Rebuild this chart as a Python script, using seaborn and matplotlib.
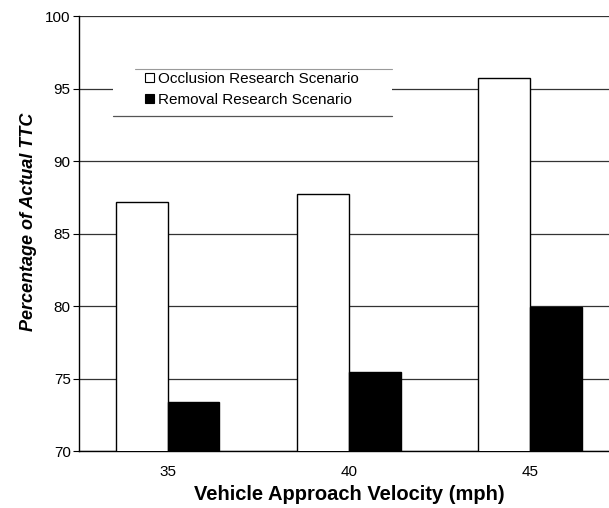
import matplotlib
matplotlib.use("Agg")
import matplotlib.pyplot as plt
import seaborn as sns
import pandas as pd
from matplotlib.lines import Line2D
from matplotlib.patches import Rectangle

velocities = ["35", "40", "45"]
occlusion = [87.2, 87.7, 95.75]
removal = [73.4, 75.45, 79.9]
series_names = ["Occlusion Research Scenario", "Removal Research Scenario"]
y_ticks = [70, 75, 80, 85, 90, 95, 100]

df = pd.DataFrame({
    "velocity": velocities * 2,
    "value": occlusion + removal,
    "scenario": [series_names[0]] * 3 + [series_names[1]] * 3,
})

sns.set_theme(style="white")
plt.rcParams["font.family"] = ["Liberation Sans", "DejaVu Sans"]
plt.rcParams["text.color"] = "black"
plt.rcParams["axes.labelcolor"] = "black"
plt.rcParams["xtick.color"] = "black"
plt.rcParams["ytick.color"] = "black"

W, H = 609, 508
fig = plt.figure(figsize=(W / 100, H / 100), dpi=100)
ax_l, ax_r, ax_t, ax_b = 79, 609, 16, 451
ax = fig.add_axes([ax_l / W, (H - ax_b) / H, (ax_r - ax_l) / W, (ax_b - ax_t) / H])

sns.barplot(data=df, x="velocity", y="value", hue="scenario", order=velocities,
            hue_order=series_names, palette=["white", "black"], edgecolor="black",
            linewidth=1.0, width=0.57, gap=0, ax=ax, legend=False, zorder=3)

ax.set_ylim(70, 100)
ax.set_xlim(-0.49, 2.436)
ax.set_yticks(y_ticks)
ax.set_yticklabels([str(t) for t in y_ticks], fontsize=11)
ax.tick_params(axis="y", length=4, width=0.8, color="black", labelcolor="black",
               direction="out", left=True, pad=2)
ax.tick_params(axis="x", length=0, labelsize=11, labelcolor="black", pad=10)
ax.yaxis.grid(True, color="#333333", linewidth=0.9)
ax.set_axisbelow(True)
for s in ["top", "right"]:
    ax.spines[s].set_visible(False)
for s in ["left", "bottom"]:
    ax.spines[s].set_color("black")
    ax.spines[s].set_linewidth(1.0)

aw, ah = ax_r - ax_l, ax_b - ax_t
ax.set_xlabel("Vehicle Approach Velocity (mph)", fontsize=14.5, fontweight="bold",
              color="black")
ax.xaxis.set_label_coords((349 - ax_l) / aw, -(485 - ax_b) / ah)
ax.set_ylabel("Percentage of Actual TTC", fontsize=13, fontweight="bold", style="italic",
              color="black")
ax.yaxis.set_label_coords((37 - ax_l) / aw, (ax_b - 221.5) / ah)

# legend background and border lines (drawn inside the axes, above grid)
tf = fig.transFigure
ax.add_patch(Rectangle((113 / W, 1 - 116 / H), (392 - 113) / W, (116 - 68) / H,
                       transform=tf, facecolor="white", edgecolor="none",
                       zorder=4, clip_on=False))
ax.add_line(Line2D([135 / W, 392 / W], [1 - 68.5 / H, 1 - 68.5 / H], transform=tf,
                   color="#9a9a9a", linewidth=0.8, zorder=5, clip_on=False))
ax.add_line(Line2D([113 / W, 392 / W], [1 - 115.5 / H, 1 - 115.5 / H], transform=tf,
                   color="#555555", linewidth=0.9, zorder=5, clip_on=False))

handles = [Rectangle((0, 0), 1, 1, facecolor="white", edgecolor="black", linewidth=0.8),
           Rectangle((0, 0), 1, 1, facecolor="black", edgecolor="black", linewidth=0.8)]
leg = ax.legend(handles, series_names, loc="upper left",
                bbox_to_anchor=((145 - ax_l) / aw, (ax_b - 72) / ah),
                frameon=False, fontsize=11, handlelength=0.6, handleheight=0.6,
                handletextpad=0.25, labelspacing=0.45, borderaxespad=0, borderpad=0,
                labelcolor="black")
leg.set_zorder(6)

fig.savefig("out.png", dpi=100)
